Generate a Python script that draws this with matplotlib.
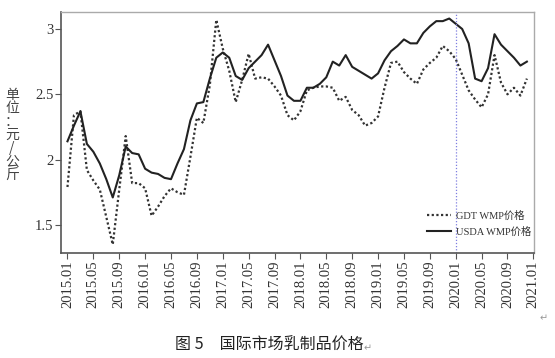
import matplotlib
matplotlib.use('Agg')
import matplotlib.pyplot as plt
import numpy as np

# --- dados (mensais 2015.01 - 2020.12) ---
usda_wmp = [2.14, 2.26, 2.37, 2.12, 2.06, 1.97, 1.85, 1.71, 1.88, 2.10,
            2.05, 2.04, 1.93, 1.90, 1.89, 1.86, 1.85, 1.97, 2.08, 2.30,
            2.43, 2.44, 2.62, 2.78, 2.82, 2.78, 2.64, 2.61, 2.70, 2.75,
            2.80, 2.88, 2.76, 2.64, 2.49, 2.45, 2.45, 2.55, 2.55, 2.58,
            2.63, 2.75, 2.72, 2.80, 2.71, 2.68, 2.65, 2.62, 2.66, 2.76,
            2.83, 2.87, 2.92, 2.89, 2.89, 2.97, 3.02, 3.06, 3.06, 3.08,
            3.04, 3.00, 2.89, 2.62, 2.60, 2.70, 2.96, 2.88, 2.83, 2.78,
            2.72, 2.75]
gdt_wmp = [1.79, 2.34, 2.37, 1.92, 1.84, 1.77, 1.56, 1.35, 1.77, 2.18,
           1.82, 1.82, 1.78, 1.57, 1.64, 1.72, 1.78, 1.75, 1.73, 2.02,
           2.32, 2.28, 2.57, 3.07, 2.85, 2.68, 2.44, 2.61, 2.81, 2.62,
           2.63, 2.62, 2.56, 2.49, 2.34, 2.30, 2.37, 2.53, 2.55, 2.56,
           2.56, 2.55, 2.45, 2.48, 2.38, 2.34, 2.26, 2.28, 2.33, 2.55,
           2.74, 2.75, 2.67, 2.62, 2.58, 2.69, 2.74, 2.78, 2.87, 2.83,
           2.77, 2.65, 2.53, 2.46, 2.40, 2.50, 2.80, 2.59, 2.50, 2.55,
           2.49, 2.62]
rotulos_x = ['2015.01', '2015.05', '2015.09', '2016.01', '2016.05', '2016.09',
             '2017.01', '2017.05', '2017.09', '2018.01', '2018.05', '2018.09',
             '2019.01', '2019.05', '2019.09', '2020.01', '2020.05', '2020.09',
             '2021.01']
ticks_y = [1.5, 2, 2.5, 3]
rotulos_y = ['1.5', '2', '2.5', '3']
mes_marcado = 60  # 2020.01

SERIF = ['Liberation Serif', 'Noto Sans CJK SC']
CJK = ['Noto Sans CJK SC', 'DejaVu Sans']

fig = plt.figure(figsize=(5.55, 3.58), dpi=100)
ax = fig.add_axes([61 / 555, 1 - 252.7 / 358, 473 / 555, 240.7 / 358])

meses = np.arange(len(usda_wmp))
ax.plot(meses, gdt_wmp, color='#333333', lw=1.6, linestyle=(0, (1, 1.1)),
        label='GDT WMP价格')
ax.plot(meses, usda_wmp, color='#222222', lw=1.5, label='USDA WMP价格')
ax.axvline(mes_marcado, color='#7f7fe0', lw=0.9, linestyle=(0, (1, 1.5)))

ax.set_xlim(-1.0, 72.1)
ax.set_ylim(1.287, 3.13)

ax.set_xticks(np.arange(0, 4 * len(rotulos_x), 4))
ax.set_xticklabels(rotulos_x, rotation=90, family=SERIF, fontsize=10.5,
                   color='#333333')
ax.set_yticks(ticks_y)
ax.set_yticklabels(rotulos_y, family=SERIF, fontsize=10.5, color='#333333')
ax.tick_params(axis='both', direction='out', length=4, width=0.8,
               color='#555555', pad=1.5)

for lado in ['left', 'bottom']:
    ax.spines[lado].set_color('#555555')
    ax.spines[lado].set_linewidth(1.2)
for lado in ['top', 'right']:
    ax.spines[lado].set_color('#aaaaaa')
    ax.spines[lado].set_linewidth(1.0)

leg = ax.legend(loc='upper left', bbox_to_anchor=(0.763, 0.197),
                frameon=False, borderpad=0, handlelength=2.3,
                handletextpad=0.5, labelspacing=0.6,
                prop={'family': SERIF, 'size': 7.5})
for t in leg.get_texts():
    t.set_color('#333333')

# rotulo do eixo y, caracteres empilhados
fig.text(12 / 555, 1 - 135 / 358, '\n'.join('单位：元/公斤'), family=CJK,
         fontsize=10, ha='center', va='center', linespacing=0.95,
         color='#444444')

# legenda da figura
fig.text(175 / 555, 1 - 345 / 358, '图 5　国际市场乳制品价格', family=CJK,
         fontsize=11.5, ha='left', va='center', color='#222222')
fig.text(364 / 555, 1 - 348 / 358, '↵', family=['DejaVu Sans'],
         fontsize=7, ha='left', va='center', color='#999999')
fig.text(540 / 555, 1 - 318 / 358, '↵', family=['DejaVu Sans'],
         fontsize=7, ha='left', va='center', color='#999999')

fig.savefig('out.png', dpi=100)
